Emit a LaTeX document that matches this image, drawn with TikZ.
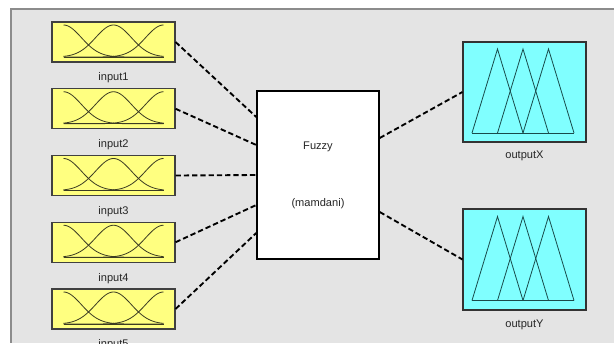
\documentclass[tikz,border=0pt]{standalone}
\usepackage{fontspec}
\setmainfont{Liberation Sans}
\usetikzlibrary{positioning,calc}

\definecolor{panelgray}{RGB}{228,228,228}
\definecolor{mfyellow}{RGB}{255,255,128}
\definecolor{mfcyan}{RGB}{128,255,255}
\definecolor{curvecol}{RGB}{60,60,35}
\definecolor{tricol}{RGB}{25,75,75}

\begin{document}
\begin{tikzpicture}[x=0.75pt,y=-0.75pt,
  inbox/.style={draw=black!75,fill=mfyellow,line width=0.8pt,inner sep=0pt,
    minimum width=92.25pt,minimum height=30pt},
  outbox/.style={draw=black!80,fill=mfcyan,line width=0.8pt,inner sep=0pt,
    minimum width=92.25pt,minimum height=75pt},
  fisbox/.style={draw=black,fill=white,line width=1.1pt,inner sep=0pt,
    minimum width=91.5pt,minimum height=126pt},
  lbl/.style={inner sep=0pt,text=black!85,font=\fontsize{8.3}{10}\selectfont},
  conn/.style={line width=1.4pt,dash pattern=on 4pt off 2.2pt},
  mfcurve/.style={curvecol,line width=0.6pt},
  mftri/.style={tricol,line width=0.6pt}]

\useasboundingbox (0,0) rectangle (614,343);

% Panel
\fill[white] (0,0) rectangle (614,343);
\fill[panelgray] (11,9) rectangle (614,343);
\draw[black!45,line width=0.8pt] (614,9) -- (11,9) -- (11,343);

% Input variables
\foreach \i in {1,...,5}{
  \node[inbox] (in\i) at (113.5,{42+66.75*(\i-1)}) {};
  \node[lbl,below=7.5pt of in\i] (lin\i) {input\i};
  \begin{scope}[shift={(in\i.center)}]
    \draw[mfcurve] (-50,15) -- (50,15);
    \foreach \c in {-50,0,50}
      \draw[mfcurve] plot[domain=-50:50,samples=61,smooth]
        (\x,{15-32*exp(-((\x-(\c))^2)/638)});
  \end{scope}
}

% FIS block
\node[fisbox] (fis) at (318,175) {};
\node[lbl] (fname) at ($(fis.center)+(0,-28)$) {Fuzzy};
\node[lbl] (ftype) at ($(fis.center)+(0,29)$) {(mamdani)};

% Output variables
\node[outbox] (outX) at (524.5,92) {};
\node[lbl,below=6pt of outX] (loutX) {outputX};
\node[outbox,minimum height=75.75pt] (outY) at (524.5,259.5) {};
\node[lbl,below=6.75pt of outY] (loutY) {outputY};

\foreach \o in {outX,outY}{
  \begin{scope}[shift={(\o.center)}]
    \draw[mftri] (-52.5,41) -- (49.5,41);
    \foreach \p in {-27,-1.5,24}
      \draw[mftri] ({\p-25.5},41) -- (\p,-43) -- ({\p+25.5},41);
  \end{scope}
}

% Connections
\foreach \i/\d in {1/-58,2/-30,3/0,4/30,5/58}
  \draw[conn] (in\i.east) -- ($(fis.west)+(0,\d)$);
\draw[conn] ($(fis.east)+(0,-37)$) -- (outX.west);
\draw[conn] ($(fis.east)+(0,37)$) -- (outY.west);

\end{tikzpicture}
\end{document}
